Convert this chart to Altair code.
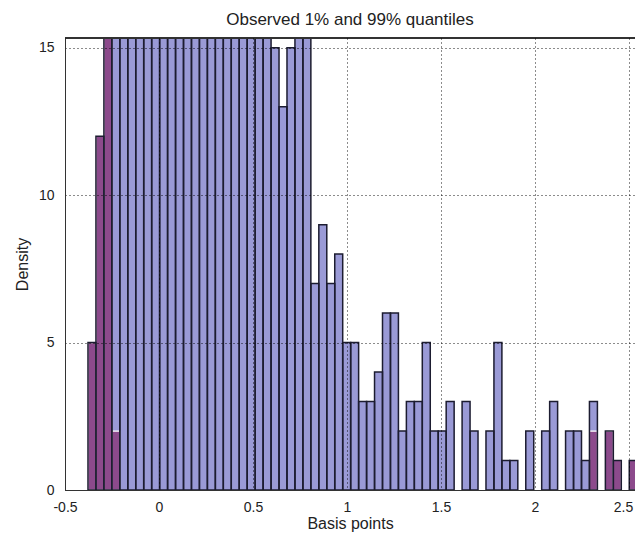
import altair as alt
import pandas as pd

# Histogram bins (data units)
bin_start = -0.3777
bin_width = 0.04234

# Total histogram heights (bars above ~15.3 are clipped in the reference; values estimated)
total_counts = [5, 12, 17, 22, 24, 27, 30, 32, 34, 35, 36, 35, 34, 33, 31, 29, 27, 25, 23, 22,
                20, 19, 17, 15, 13, 15, 17, 16,
                7, 9, 7, 8, 5, 5, 3, 3, 4, 6, 6, 2, 3, 3, 5, 2, 2, 3, 0, 3, 2, 0,
                2, 5, 1, 1, 0, 2, 0, 2, 3, 0, 2, 2, 1, 3, 0, 2, 1, 0, 1, 1]

# Tail (beyond observed 1% / 99% quantiles) heights, by bin index
tail_index = [0, 1, 2, 3, 63, 65, 66, 68, 69]
tail_values = [5, 12, 17, 2, 2, 2, 1, 1, 1]

x_ticks = [-0.5, 0, 0.5, 1, 1.5, 2, 2.5]
y_ticks = [0, 5, 10, 15]
x_domain = [-0.5, 2.532]
y_domain = [0, 15.33]

BLUE = "#9a9ad6"
PURPLE = "#8c4a8c"
EDGE = "#1c1c30"
FONT = "Liberation Sans"

tail_map = dict(zip(tail_index, tail_values))
rows = []
for i, t in enumerate(total_counts):
    left = bin_start + i * bin_width
    rows.append({"left": left, "right": left + bin_width, "total": t,
                 "tail": tail_map.get(i, 0)})
df = pd.DataFrame(rows)

x_axis = alt.Axis(values=x_ticks, labelExpr="'' + datum.value", grid=True, gridDash=[1, 3],
                  gridColor="#000", gridOpacity=0.9, ticks=False, domain=True, domainColor="#333",
                  labelFont=FONT, labelFontSize=14, labelColor="#222", labelPadding=10,
                  labelOffset={"expr": "datum.value == 2.5 ? -6 : 0"},
                  labelFlush=False, labelOverlap=False, title="Basis points", titleFont=FONT,
                  titleFontSize=16, titleFontWeight="normal", titleColor="#222", titlePadding=1,
                  zindex=1)
y_axis = alt.Axis(values=y_ticks, grid=True, gridDash=[1, 3], gridColor="#000", gridOpacity=0.9,
                  ticks=False, domain=True, domainColor="#333", labelFont=FONT, labelFontSize=14,
                  labelColor="#222", labelPadding=11, labelFlush=False, labelOverlap=False,
                  title="Density", titleFont=FONT, titleFontSize=16, titleFontWeight="normal",
                  titleColor="#222", titlePadding=8, zindex=1)

xs = alt.X("left:Q", scale=alt.Scale(domain=x_domain, nice=False, zero=False), axis=x_axis)
x2 = alt.X2("right:Q")

base = alt.Chart(df)

blue = base.transform_filter("datum.total > 0").mark_bar(color=BLUE, clip=True).encode(
    x=xs, x2=x2,
    y=alt.Y("total:Q", scale=alt.Scale(domain=y_domain, nice=False), axis=y_axis),
    y2=alt.datum(0))

purple = base.transform_filter("datum.tail > 0").mark_bar(
    color=PURPLE, stroke="white", strokeWidth=1.2, clip=True).encode(
    x=xs, x2=x2,
    y=alt.Y("tail:Q", scale=alt.Scale(domain=y_domain, nice=False), axis=y_axis),
    y2=alt.datum(0))

edges = base.transform_filter("datum.total > 0").mark_bar(
    fillOpacity=0, stroke=EDGE, strokeWidth=1.5, clip=True).encode(
    x=xs, x2=x2,
    y=alt.Y("total:Q", scale=alt.Scale(domain=y_domain, nice=False), axis=y_axis),
    y2=alt.datum(0))

top_frame = alt.Chart(df).mark_rule(color="#333", strokeWidth=1).encode(
    y=alt.value(0), x=alt.value(0), x2=alt.value(570))

chart = alt.layer(blue, purple, edges, top_frame).properties(
    width=570, height=452,
    title=alt.TitleParams("Observed 1% and 99% quantiles", font=FONT, fontSize=17,
                          fontWeight="normal", color="#222", anchor="middle", offset=9),
    autosize=alt.AutoSizeParams(type="none"),
    padding={"left": 57, "top": 30, "right": 0, "bottom": 42},
).configure_view(stroke="#333", strokeWidth=1)

chart.save("out.html", embed_options={"renderer": "svg", "actions": False})
